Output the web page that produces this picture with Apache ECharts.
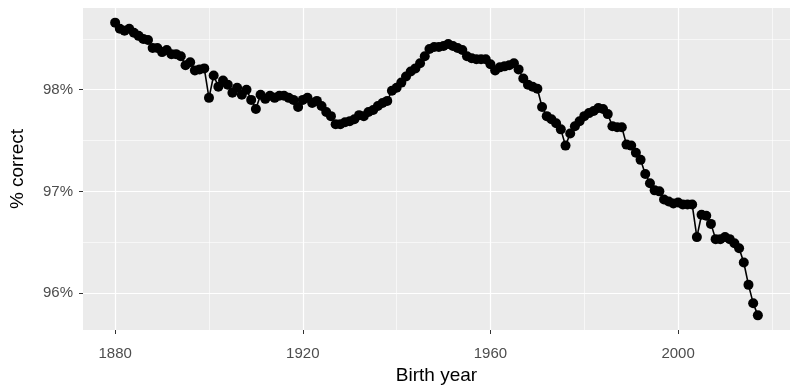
<!DOCTYPE html>
<html>
<head>
<meta charset="utf-8">
<script src="https://cdn.jsdelivr.net/npm/echarts@6/dist/echarts.min.js"></script>
<style>html,body{margin:0;padding:0;background:#fff;}#c{width:800px;height:392px;}</style>
</head>
<body>
<div id="c"></div>
<script>
const startYear = 1880;
const pctCorrect = [
98.66,98.60,98.58,98.60,98.56,98.53,98.50,98.49,98.41,98.41,
98.37,98.39,98.35,98.35,98.33,98.24,98.27,98.19,98.20,98.21,
97.92,98.14,98.03,98.09,98.05,97.97,98.02,97.95,98.00,97.90,
97.81,97.95,97.91,97.94,97.92,97.94,97.94,97.92,97.90,97.83,
97.90,97.92,97.87,97.89,97.84,97.78,97.74,97.66,97.66,97.68,
97.69,97.71,97.75,97.74,97.78,97.80,97.84,97.87,97.89,97.99,
98.02,98.07,98.13,98.18,98.21,98.26,98.33,98.40,98.42,98.42,
98.43,98.45,98.43,98.41,98.39,98.33,98.31,98.30,98.30,98.30,
98.25,98.19,98.22,98.23,98.24,98.26,98.20,98.11,98.05,98.03,
98.01,97.83,97.74,97.71,97.67,97.61,97.45,97.57,97.64,97.69,
97.74,97.77,97.79,97.82,97.81,97.76,97.64,97.63,97.63,97.46,
97.45,97.38,97.31,97.17,97.08,97.01,97.00,96.92,96.90,96.88,
96.89,96.87,96.87,96.87,96.55,96.77,96.76,96.68,96.53,96.53,
96.55,96.53,96.49,96.44,96.30,96.08,95.90,95.78
];
const years = pctCorrect.map((v, i) => startYear + i);
const xMajor = [1880, 1920, 1960, 2000];
const xMinor = [1900, 1940, 1980, 2020];
const yMajor = [96, 97, 98];
const yMinor = [96.5, 97.5, 98.5];

const xMin = 1873.15, xMax = 2023.85, yMin = 95.636, yMax = 98.804;

const gridLines = [];
xMinor.forEach(v => gridLines.push({xAxis: v, lineStyle: {color: '#fff', width: 0.6, type: 'solid'}}));
yMinor.forEach(v => gridLines.push({yAxis: v, lineStyle: {color: '#fff', width: 0.6, type: 'solid'}}));
xMajor.forEach(v => gridLines.push({xAxis: v, lineStyle: {color: '#fff', width: 1.2, type: 'solid'}}));
yMajor.forEach(v => gridLines.push({yAxis: v, lineStyle: {color: '#fff', width: 1.2, type: 'solid'}}));

const chart = echarts.init(document.getElementById('c'), null, {renderer: 'canvas'});
const font = 'Liberation Sans, Arial, sans-serif';
chart.setOption({
  animation: false,
  grid: {left: 80, right: 10, top: 8, bottom: 62, show: true, backgroundColor: '#EBEBEB', borderWidth: 0},
  xAxis: {
    type: 'value', min: xMin, max: xMax,
    name: 'Birth year', nameLocation: 'middle', nameGap: 33,
    nameTextStyle: {fontFamily: font, fontSize: 19, color: '#000'},
    axisLine: {show: false},
    axisTick: {show: true, length: 4, customValues: xMajor, lineStyle: {color: '#333', width: 1}},
    axisLabel: {customValues: xMajor, fontFamily: font, fontSize: 15, color: '#4D4D4D', margin: 16, formatter: v => String(v)},
    splitLine: {show: false}
  },
  yAxis: {
    type: 'value', min: yMin, max: yMax,
    name: '% correct', nameLocation: 'middle', nameGap: 56, nameRotate: 90,
    nameTextStyle: {fontFamily: font, fontSize: 19, color: '#000'},
    axisLine: {show: false},
    axisTick: {show: true, length: 4, customValues: yMajor, lineStyle: {color: '#333', width: 1}},
    axisLabel: {customValues: yMajor, fontFamily: font, fontSize: 15, color: '#4D4D4D', margin: 10, formatter: v => Math.round(v) + '%'},
    splitLine: {show: false}
  },
  series: [
    {
      type: 'line', data: [], z: 1, silent: true,
      markLine: {silent: true, z: 1, symbol: ['none', 'none'], label: {show: false}, animation: false, data: gridLines}
    },
    {
      type: 'line', z: 3,
      data: years.map((y, i) => [y, pctCorrect[i]]),
      symbol: 'circle', symbolSize: 10, showSymbol: true,
      itemStyle: {color: '#000'},
      lineStyle: {color: '#000', width: 1.6}
    }
  ]
});
</script>
</body>
</html>
